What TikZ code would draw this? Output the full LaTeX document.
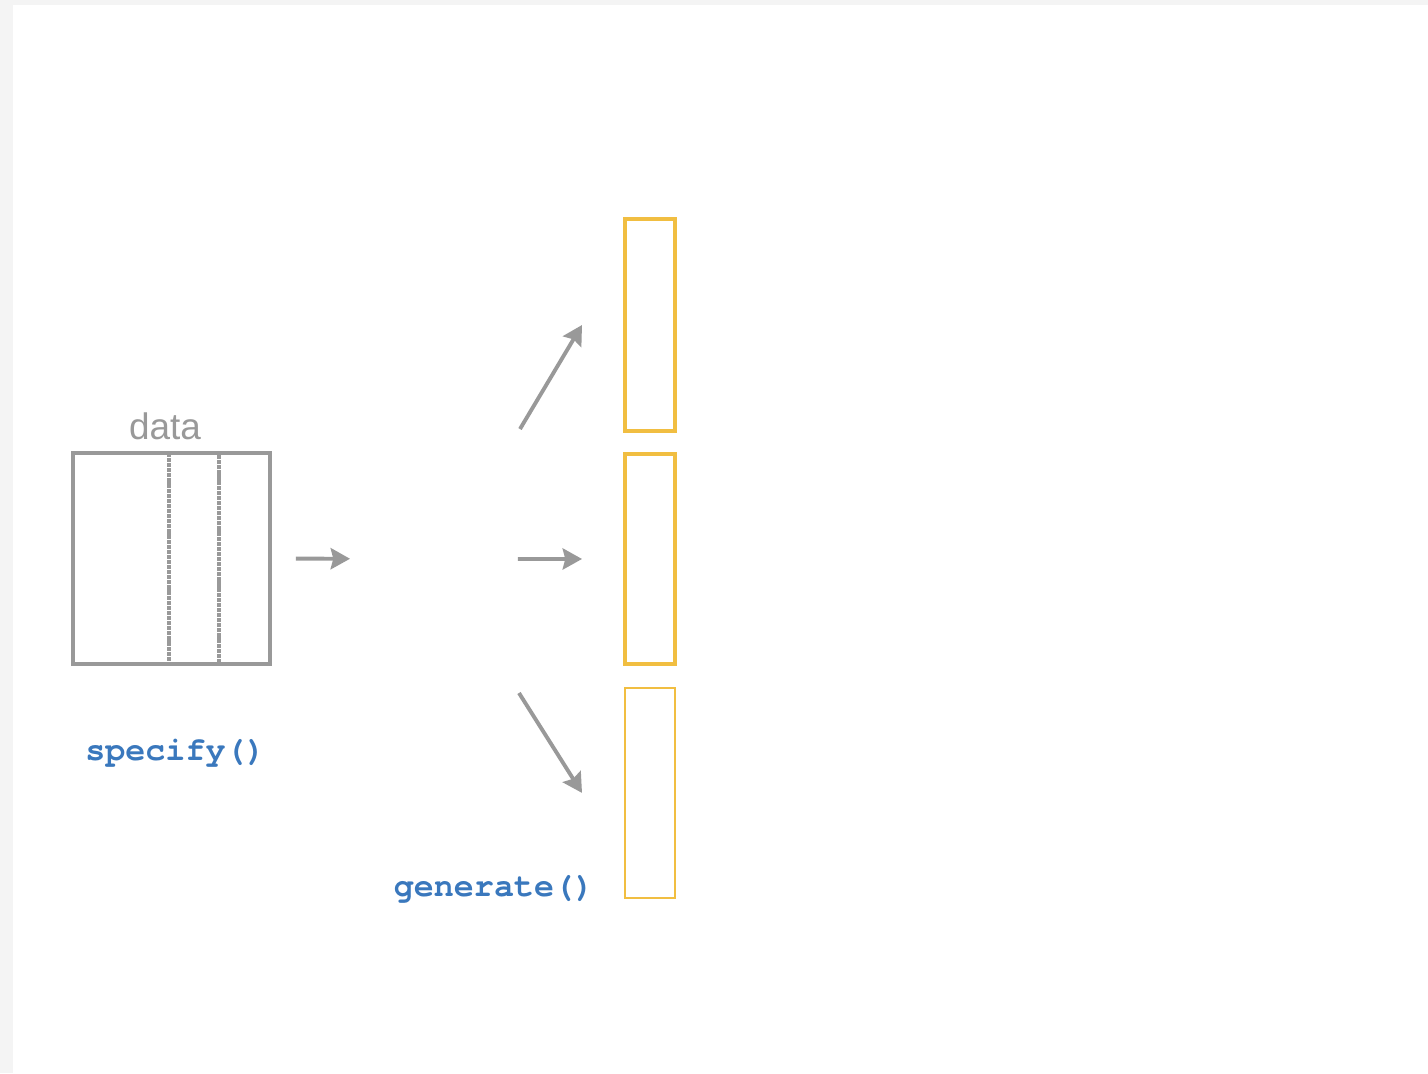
\documentclass[tikz,border=0pt]{standalone}
\usepackage{fontspec}
\setmainfont{Liberation Sans}
\setmonofont{texgyrecursor}[Extension=.otf, UprightFont=*-regular, BoldFont=*-bold]
\usetikzlibrary{arrows.meta, positioning}
\definecolor{datagray}{HTML}{999999}
\definecolor{pagegray}{HTML}{F4F4F4}
\definecolor{fnblue}{HTML}{3A78BD}
\definecolor{sampyellow}{HTML}{F1BE41}
\tikzset{
  datatable/.style={
    rectangle, draw=datagray, line width=1.9pt,
    minimum width=3.94cm, minimum height=4.22cm,
    inner sep=0pt, outer sep=0pt
  },
  varcol/.style={
    rectangle, draw=datagray, dash pattern=on 2.4pt off 0.5pt, line width=1.9pt,
    minimum width=1cm, minimum height=4.22cm,
    inner sep=0pt, outer sep=0pt
  },
  sample/.style={
    rectangle, draw=sampyellow, line width=2.3pt,
    minimum width=1cm, minimum height=4.2cm,
    inner sep=0pt, outer sep=0pt
  },
  fn/.style={font=\ttfamily\bfseries\fontsize{19}{21}\selectfont, text=fnblue, inner sep=0pt},
  arrow/.style={-{Stealth[length=11pt, width=12pt, inset=1.5pt]}, line width=2.2pt, datagray}
}
\begin{document}
\begin{tikzpicture}[x=0.02cm, y=-0.02cm]

  % page
  \fill[pagegray] (0,0) rectangle (1428,1073);
  \fill[white] (13,5) rectangle (1428,1073);

  \node[datatable] (data) at (171.5,558.5) {};
  \node[varcol] (var) at (194,558.5) {};
  \node[font=\fontsize{21}{24}\selectfont, text=datagray, inner sep=0pt, anchor=base] (datalbl) at (165,439) {data};

  \node[fn, anchor=base] (specify) at (175.5,760) {specify()};

  \coordinate (hub) at (428,559);

  \node[sample, minimum height=4.24cm] (samp1) at (650,325) {};
  \node[sample, below=0.46cm of samp1] (samp2) {};
  \node[sample, below=0.48cm of samp2, line width=1.4pt] (samp3) {};

  \node[fn, anchor=base] (generate) at (494,896) {generate()};

  \coordinate (up0) at (520,429);
  \coordinate (down0) at (519,693);

  \draw[arrow, shorten <=0.52cm, shorten >=1.56cm] (data.east) -- (hub);
  \draw[arrow] (up0) -- ([xshift=-0.86cm]samp1.west);
  \draw[arrow, shorten <=1.8cm, shorten >=0.86cm] (hub) -- (samp2.west);
  \draw[arrow] (down0) -- ([xshift=-0.86cm]samp3.west);

\end{tikzpicture}
\end{document}
